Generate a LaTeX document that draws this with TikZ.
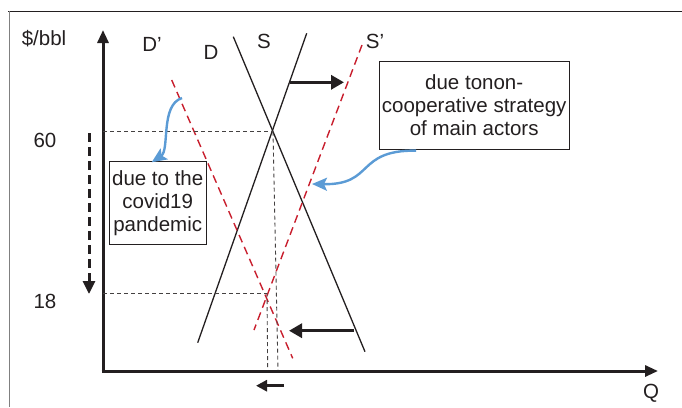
\documentclass[tikz,border=0pt]{standalone}
\usepackage{fontspec}
\setmainfont{Liberation Sans}
\usetikzlibrary{arrows.meta}
\definecolor{ink}{RGB}{35,31,32}
\definecolor{redd}{RGB}{200,30,45}
\definecolor{bluea}{RGB}{91,155,213}
\begin{document}
\begin{tikzpicture}[x=1pt,y=-1pt,
  lbl/.style={inner sep=0pt,text=ink,font=\fontsize{20.5}{23}\selectfont},
  note/.style={draw=ink,line width=1.1pt,inner sep=0pt,text=ink,align=center,font=\fontsize{20.5}{23.3}\selectfont},
  curve/.style={draw=ink,line width=1.3pt},
  shifted/.style={draw=redd,line width=1.4pt,dash pattern=on 8pt off 5pt},
  guide/.style={draw=ink!85,line width=0.9pt,dash pattern=on 4pt off 3pt},
  axis/.style={draw=ink,line width=3pt,-{Triangle[length=13pt,width=11pt]}},
  shiftarrow/.style={draw=ink,line width=3.2pt,-{Triangle[length=13pt,width=14pt]}},
  callout/.style={draw=bluea,line width=2.4pt,-{Stealth[length=15pt,width=13pt,inset=3pt]}}]
\useasboundingbox (0,0) rectangle (682,407);
% frame
\draw[draw=ink,line width=1pt] (8,11) -- (682,11);
\draw[draw=gray,line width=1.2pt] (9.5,11) -- (9.5,407);
% axes
\coordinate (O) at (103,371);
\coordinate (ytip) at (103,30);
\coordinate (xtip) at (658,371);
\draw[axis] (O) -- (ytip);
\draw[axis] ([xshift=-1.5pt]O) -- (xtip);
% axis labels
\node[lbl] (ylab) at (44,39) {\$/bbl};
\node[lbl] (xlab) at (651,393) {Q};
\node[lbl] (p60) at (45,140) {60};
\node[lbl] (p18) at (45,301) {18};
% curves
\coordinate (Dt) at (233.3,36.7);
\coordinate (Db) at (365,351.7);
\coordinate (St) at (306.7,33.3);
\coordinate (Sb) at (197.7,342.7);
\coordinate (Dpt) at (171.7,80);
\coordinate (Dpb) at (292.7,358.3);
\coordinate (Spt) at (362,45);
\coordinate (Spb) at (254,330);
\draw[curve] (Dt) -- (Db);
\draw[curve] (St) -- (Sb);
\draw[shifted] (Dpt) -- (Dpb);
\draw[shifted] (Spt) -- (Spb);
\node[lbl] (Dlab) at (211,52) {D};
\node[lbl] (Slab) at (264,41) {S};
\node[lbl] (Dplab) at (152,44) {D’};
\node[lbl] (Splab) at (375,41) {S’};
% equilibria guides
\coordinate (E1) at (273,131.7);
\coordinate (E2) at (267,293);
\draw[guide] (103,131.7) -- (E1);
\draw[guide] (E1) -- (278,370);
\draw[guide] (103,293) -- (E2);
\draw[guide] (E2) -- (267.7,370);
% price drop arrow
\coordinate (pa) at (89,133);
\coordinate (pb) at (89,294);
\draw[draw=ink,line width=3pt,dash pattern=on 8.5pt off 5.5pt,-{Triangle[length=13pt,width=12pt]}] (pa) -- (pb);
% shift arrows
\coordinate (a1s) at (290,82.3);
\coordinate (a1e) at (344,82.3);
\draw[shiftarrow] (a1s) -- (a1e);
\coordinate (a2s) at (354,330.7);
\coordinate (a2e) at (289,330.7);
\draw[shiftarrow] (a2s) -- (a2e);
\coordinate (a3s) at (284,385.7);
\coordinate (a3e) at (256,385.7);
\draw[draw=ink,line width=2.8pt,-{Triangle[length=11pt,width=11pt]}] (a3s) -- (a3e);
% notes
\node[note,minimum width=97pt,minimum height=83pt] (covid) at (157.7,203.3) {due to the\\covid19\\pandemic};
\node[note,minimum width=190pt,minimum height=87.5pt] (opec) at (474.2,105.3) {due tonon-\\cooperative strategy\\of main actors};
% callout arrows
\coordinate (c1s) at (182,98);
\draw[callout] (c1s) .. controls (160,105) and (170,150) .. ([xshift=-6pt,yshift=-1pt]covid.north);
\coordinate (c2e) at (312,184);
\draw[callout] ([xshift=-58pt,yshift=-1pt]opec.south) .. controls (355,150) and (375,185) .. (c2e);
\end{tikzpicture}
\end{document}
